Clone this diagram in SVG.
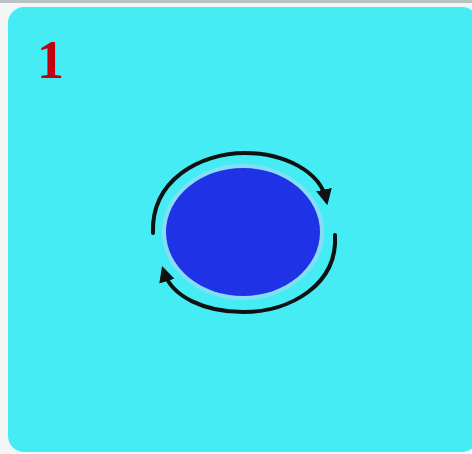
<svg xmlns="http://www.w3.org/2000/svg" width="472" height="454" viewBox="0 0 472 454">
<defs>
<style>
.arc{fill:none;stroke:#111;stroke-width:4;stroke-linecap:round}
.lbl{font-family:"Liberation Serif",serif;font-weight:bold;font-size:54px;fill:#c0000f}
</style>
<marker id="ah" viewBox="0 0 10 10" refX="6" refY="5" markerWidth="4" markerHeight="4" orient="auto" markerUnits="strokeWidth">
<path d="M0,0 L10,5 L0,10 Z" fill="#111"/>
</marker>
</defs>
<rect x="0" y="0" width="472" height="454" fill="#f4f6f6"/>
<rect x="0" y="0" width="472" height="3" fill="#b8c2c2"/>
<rect x="8" y="7" width="470" height="445" rx="16" fill="#46ecf4"/>
<text class="lbl" x="37" y="78">1</text>
<g id="disc">
<ellipse cx="243" cy="232" rx="81" ry="68" fill="#86def6"/>
<ellipse cx="243" cy="232" rx="77" ry="64" fill="#1f32e6"/>
</g>
<g id="connectors">
<path class="arc" d="M153,233 C151,180 200,153 245,153 C285,153 320,172 326,199" marker-end="url(#ah)"/>
<path class="arc" d="M335,235 C338,285 290,312 243,312 C205,312 172,297 164,272" marker-end="url(#ah)"/>
</g>
</svg>
